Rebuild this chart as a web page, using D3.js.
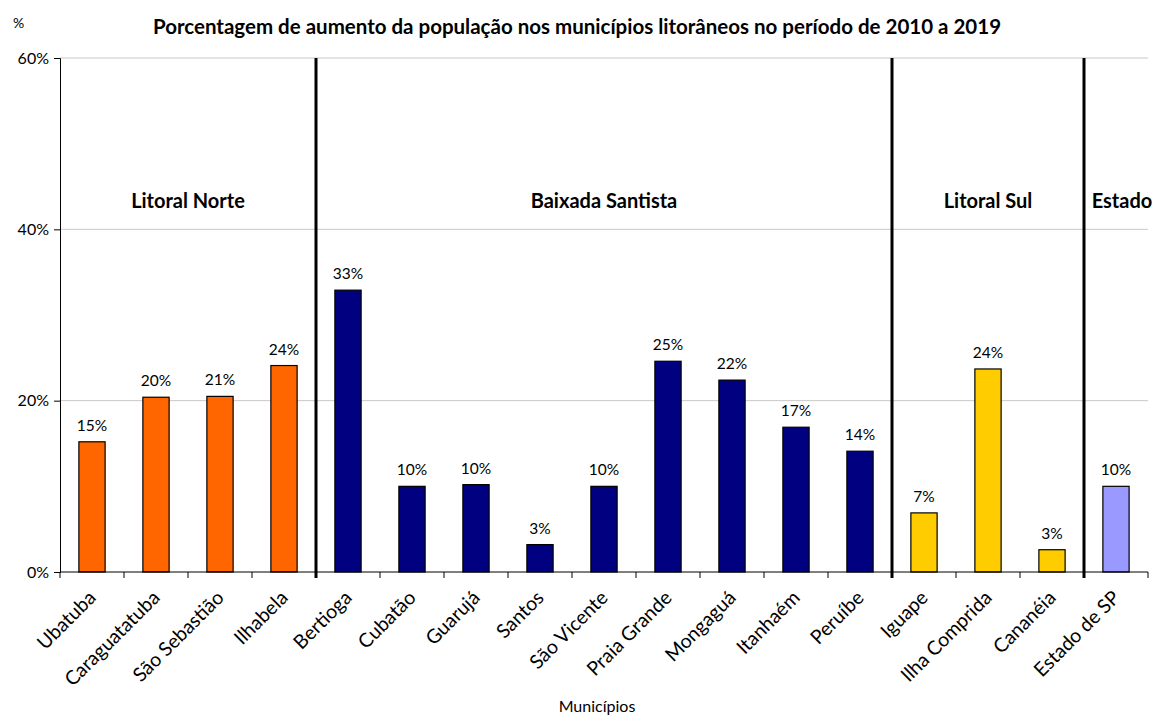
<!DOCTYPE html>
<html><head><meta charset="utf-8">
<script src="https://cdn.jsdelivr.net/npm/d3@7"></script>
<style>body{margin:0;background:#fff;} text{font-family:Lato, "Open Sans", sans-serif;}</style>
</head><body>
<svg id="c" width="1154" height="717"></svg>
<script>
const categories = ["Ubatuba","Caraguatatuba","São Sebastião","Ilhabela","Bertioga","Cubatão","Guarujá","Santos","São Vicente","Praia Grande","Mongaguá","Itanhaém","Peruíbe","Iguape","Ilha Comprida","Cananéia","Estado de SP"];
const values = [15.2,20.4,20.5,24.1,32.9,10.0,10.2,3.2,10.0,24.6,22.4,16.9,14.1,6.9,23.7,2.6,10.0];
const valueLabels = ["15%","20%","21%","24%","33%","10%","10%","3%","10%","25%","22%","17%","14%","7%","24%","3%","10%"];
const regionOf = ["Litoral Norte","Litoral Norte","Litoral Norte","Litoral Norte","Baixada Santista","Baixada Santista","Baixada Santista","Baixada Santista","Baixada Santista","Baixada Santista","Baixada Santista","Baixada Santista","Baixada Santista","Litoral Sul","Litoral Sul","Litoral Sul","Estado"];
const regions = ["Litoral Norte","Baixada Santista","Litoral Sul","Estado"];
const regionColors = ["#FF6600","#000080","#FFCC00","#9999FF"];
const yTicks = [0,20,40,60];
const title = "Porcentagem de aumento da população nos municípios litorâneos no período de 2010 a 2019";

const svg = d3.select("#c");
const mLeft = 60, mRight = 1148, mTop = 58, mBottom = 572;
const x = d3.scaleBand().domain(categories).range([mLeft, mRight]).paddingInner(0.59).paddingOuter(0.295);
const y = d3.scaleLinear().domain([0,60]).range([mBottom, mTop]);
const color = d3.scaleOrdinal().domain(regions).range(regionColors);

// gridlines
svg.append("g").selectAll("line").data(yTicks.filter(d=>d>0)).join("line")
  .attr("x1", mLeft).attr("x2", mRight).attr("y1", d=>y(d)).attr("y2", d=>y(d))
  .attr("stroke", "#c8c8c8").attr("stroke-width", 1);

// bars
svg.append("g").selectAll("rect").data(categories).join("rect")
  .attr("x", (d)=>x(d)).attr("width", x.bandwidth())
  .attr("y", (d,i)=>y(values[i])).attr("height", (d,i)=>y(0)-y(values[i]))
  .attr("fill", (d,i)=>color(regionOf[i])).attr("stroke", "#000").attr("stroke-width", 1.2);

// value labels
svg.append("g").selectAll("text").data(categories).join("text")
  .attr("x", d=>x(d)+x.bandwidth()/2).attr("y", (d,i)=>y(values[i])-11)
  .attr("text-anchor","middle").attr("font-size", 15.5).attr("fill","#000")
  .text((d,i)=>valueLabels[i]);

// y axis
const yAxis = svg.append("g").attr("transform", `translate(${mLeft},0)`)
  .call(d3.axisLeft(y).tickValues(yTicks).tickSize(6).tickFormat(d=>d+"%"));
yAxis.select(".domain").attr("stroke","#000");
yAxis.selectAll("text").attr("font-size", 16).attr("font-family","Lato, 'Open Sans', sans-serif").attr("dx", -2);

// x axis with ticks at band boundaries
const step = x.step();
const bounds = d3.range(categories.length + 1).map(i => mLeft + i*step);
svg.append("line").attr("x1", mLeft).attr("x2", mRight).attr("y1", mBottom).attr("y2", mBottom).attr("stroke","#000");
svg.append("g").selectAll("line").data(bounds).join("line")
  .attr("x1", d=>d).attr("x2", d=>d).attr("y1", mBottom).attr("y2", mBottom+6).attr("stroke","#000");

// category labels rotated
svg.append("g").selectAll("text").data(categories).join("text")
  .attr("transform", d=>`translate(${x(d)+x.bandwidth()/2+5},${mBottom+27}) rotate(-45)`)
  .attr("text-anchor","end").attr("font-size", 19.5).attr("fill","#000")
  .text(d=>d);

// separators between regions
const sepIdx = [];
for (let i=1;i<categories.length;i++) if (regionOf[i]!==regionOf[i-1]) sepIdx.push(i);
svg.append("g").selectAll("line").data(sepIdx).join("line")
  .attr("x1", i=>mLeft+i*step).attr("x2", i=>mLeft+i*step)
  .attr("y1", mTop).attr("y2", mBottom+6).attr("stroke","#000").attr("stroke-width", 3);

// region labels
regions.forEach(r=>{
  const idx = regionOf.map((v,i)=>v===r?i:-1).filter(i=>i>=0);
  const cx = (mLeft + idx[0]*step + mLeft + (idx[idx.length-1]+1)*step)/2;
  svg.append("text").attr("x", r==="Estado"? cx+6 : cx).attr("y", 208).attr("text-anchor","middle")
    .attr("font-size", 20).attr("font-weight","bold").text(r);
});

// title, unit, axis title
svg.append("text").attr("x", 577).attr("y", 34).attr("text-anchor","middle").attr("font-size",20.5).attr("font-weight","bold").text(title);
svg.append("text").attr("x", 13).attr("y", 28).attr("font-size",14).text("%");
svg.append("text").attr("x", 597).attr("y", 712).attr("text-anchor","middle").attr("font-size",16).text("Municípios");
</script>
</body></html>
